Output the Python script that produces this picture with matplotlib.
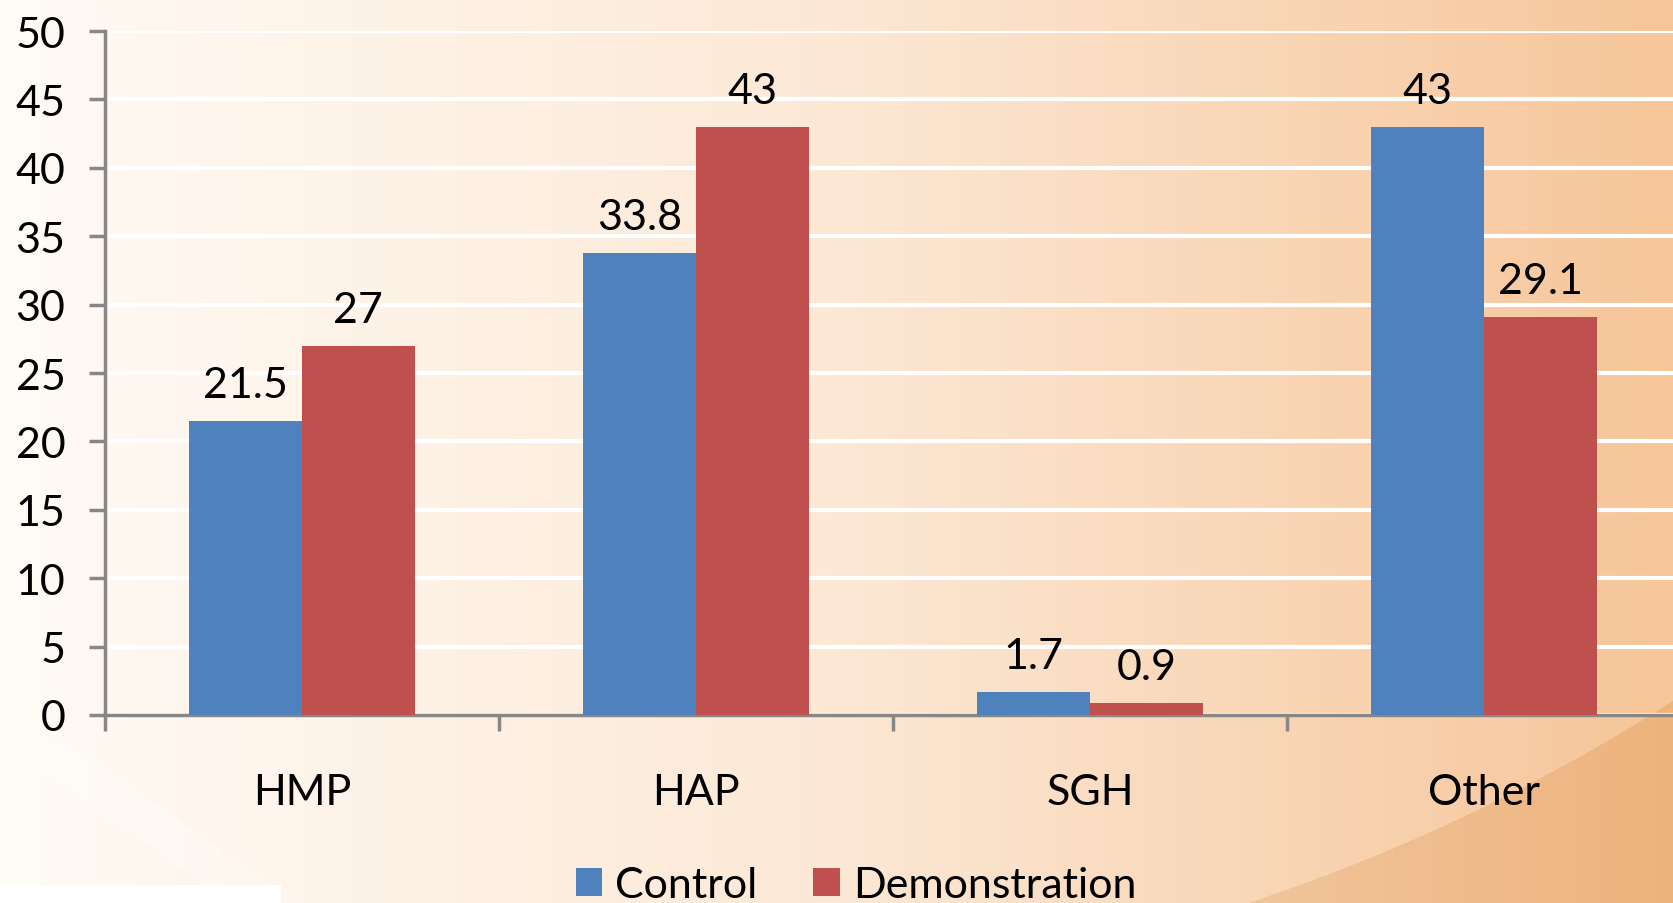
import numpy as np
import matplotlib.pyplot as plt
from matplotlib.patches import Rectangle

categories = ['HMP', 'HAP', 'SGH', 'Other']
control = [21.5, 33.8, 1.7, 43]
demonstration = [27, 43, 0.9, 29.1]
y_ticks = [0, 5, 10, 15, 20, 25, 30, 35, 40, 45, 50]

plt.rcParams['font.family'] = ['Lato', 'DejaVu Sans']
FS = 31

W, H = 1673, 904
fig = plt.figure(figsize=(W / 100, H / 100), dpi=100)

# background: warm horizontal gradient with a darker arc at the bottom right
bg = fig.add_axes([0, 0, 1, 1], zorder=-10)
xs = np.linspace(0, 1, W)
left = np.array([255, 251, 246]) / 255
mid = np.array([252, 232, 213]) / 255
right = np.array([246, 197, 153]) / 255
t = xs[:, None]
row = np.where(t < 0.5, left + (mid - left) * (t / 0.5), mid + (right - mid) * ((t - 0.5) / 0.5))
img = np.repeat(row[None, :, :], H, axis=0)
yy, xx = np.mgrid[0:H, 0:W]
arc = np.hypot(xx - 650, yy + 900) > 1900
img[arc] = img[arc] - np.array([8, 18, 28]) / 255
img = np.clip(img, 0, 1)
bg.imshow(img, extent=[0, W, H, 0], aspect='auto')
bg.fill([0, 60, 300, 230], [740, 740, 904, 904], color='white', alpha=0.25, lw=0)
bg.add_patch(Rectangle((0, 886), 281, 18, color='white', lw=0))
bg.set_xlim(0, W)
bg.set_ylim(H, 0)
bg.axis('off')

ax = fig.add_axes([105 / W, 1 - 716 / H, 1576 / W, 684 / H])
ax.patch.set_alpha(0)

x = np.arange(len(categories))
w = 1 / 3.5
blue = '#4F81BD'
red = '#C0504D'
b1 = ax.bar(x - w / 2, control, w, color=blue, label='Control', zorder=3)
b2 = ax.bar(x + w / 2, demonstration, w, color=red, label='Demonstration', zorder=3)

for bars, vals in ((b1, control), (b2, demonstration)):
    for r, v in zip(bars, vals):
        ax.annotate(f'{v:g}', (r.get_x() + r.get_width() / 2, v), xytext=(0, 12),
                    textcoords='offset points', ha='center', va='bottom', fontsize=FS)

ax.set_xlim(-0.5, len(categories) - 0.5)
ax.set_ylim(0, 50)
ax.set_yticks(y_ticks)
ax.yaxis.grid(True, color='white', lw=3, zorder=0)
ax.set_axisbelow(True)

ax.set_xticks(np.arange(len(categories) + 1) - 0.5)
ax.set_xticklabels([])
ax.set_xticks(x, minor=True)
ax.set_xticklabels(categories, minor=True, fontsize=FS)
ax.tick_params(axis='x', which='minor', length=0, pad=42)
ax.tick_params(axis='x', which='major', length=16 * 0.72, width=2.5, color='#878787', direction='out')
ax.tick_params(axis='y', length=16 * 0.72, width=2.5, color='#878787', labelsize=FS, pad=17)

for s in ['top', 'right']:
    ax.spines[s].set_visible(False)
for s in ['left', 'bottom']:
    ax.spines[s].set_color('#878787')
    ax.spines[s].set_linewidth(2.5)

fig.legend(handles=[b1, b2], loc='center', bbox_to_anchor=(856 / W, 1 - 886 / H),
           ncol=2, frameon=False, fontsize=FS, handlelength=0.62, handleheight=0.62,
           handletextpad=0.3, columnspacing=1.3, borderpad=0)

fig.savefig('out.png', dpi=100)
